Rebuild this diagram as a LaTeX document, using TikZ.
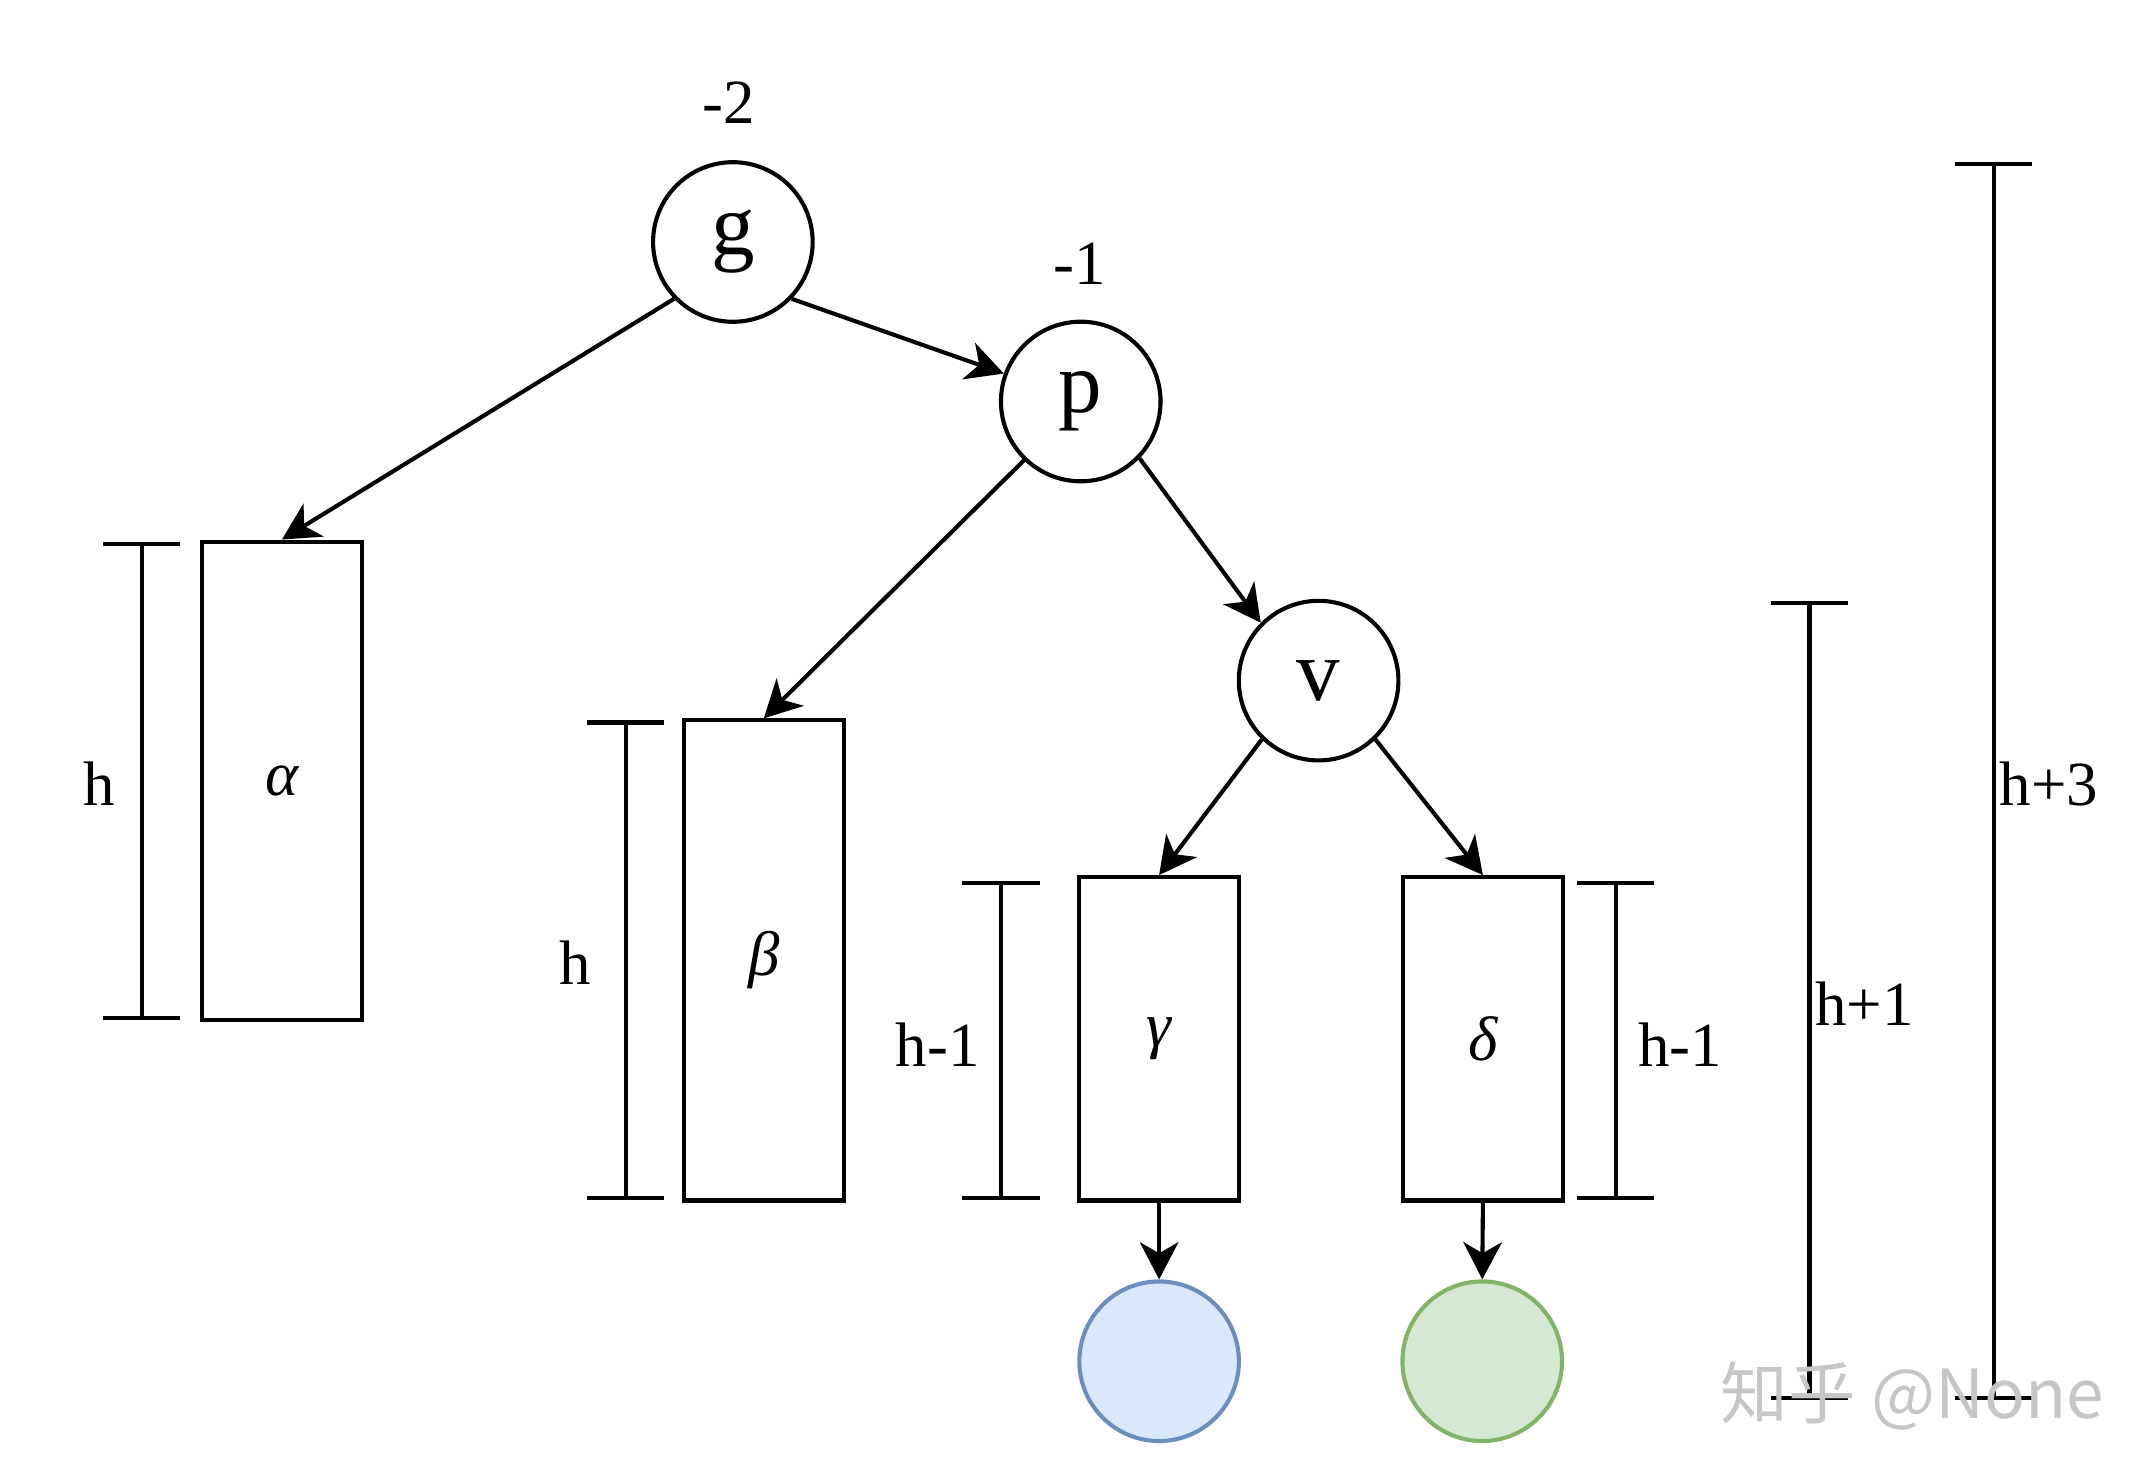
\documentclass[tikz,border=0pt]{standalone}
\usepackage{fontspec}
\setmainfont{Liberation Serif}
\newfontfamily\cjk{Noto Sans CJK SC}
\usetikzlibrary{shapes,arrows.meta,positioning,calc}

\definecolor{leafblue}{HTML}{DAE8FC}
\definecolor{leafblueline}{HTML}{6C8EBF}
\definecolor{leafgreen}{HTML}{D5E8D4}
\definecolor{leafgreenline}{HTML}{82B366}

\tikzset{
  treenode/.style={draw, circle, line width=0.85pt, minimum size=1.16cm, inner sep=0pt, font=\fontsize{18}{18}\selectfont},
  subtree/.style={draw, rectangle, line width=0.85pt, minimum width=1.16cm, inner sep=0pt, font=\fontsize{13}{13}\selectfont\itshape},
  link/.style={-{Stealth[length=0.27cm, width=0.28cm, inset=0.08cm]}, line width=0.85pt},
  dimbar/.style={{Bar[width=0.56cm]}-{Bar[width=0.56cm]}, line width=0.85pt},
  lbl/.style={font=\fontsize{13}{13}\selectfont, inner sep=0pt},
}

\begin{document}
\begin{tikzpicture}[x=0.01cm, y=-0.01cm]
\useasboundingbox (0,0) rectangle (1568,1079);

% 结点
\node[treenode] (g) at (533,176) {g};
\node[treenode] (p) at (786,292) {p};
\node[treenode] (v) at (959,495) {v};
\node[lbl] (gbf) at (530,75) {-2};
\node[lbl] (pbf) at (785,192) {-1};

% 子树
\node[subtree, minimum height=3.48cm] (alpha) at (205,568) {α};
\node[subtree, minimum height=3.49cm] (beta) at (555.5,698.5) {β};
\node[subtree, minimum height=2.35cm] (gamma) at (843,755.5) {γ};
\node[subtree, minimum height=2.35cm] (delta) at (1078.5,755.5) {δ};

% 新插入的结点
\node[treenode, fill=leafblue, draw=leafblueline] (newa) at (843,990) {};
\node[treenode, fill=leafgreen, draw=leafgreenline] (newb) at (1078,990) {};

% 边
\draw[link] (g.-136) -- (alpha.north);
\draw[link] (g.-44) -- (p.160);
\draw[link] (p.-134) -- (beta.north);
\draw[link] (p.-44) -- (v.135);
\draw[link] (v.-134) -- (gamma.north);
\draw[link] (v.-46) -- (delta.north);
\draw[link] (gamma.south) -- (newa.north);
\draw[link] (delta.south) -- (newb.north);

% 高度
\coordinate (ha1) at (103,394);  \coordinate (ha2) at (103,742);
\coordinate (hb1) at (455,524);  \coordinate (hb2) at (455,873);
\coordinate (hc1) at (728,641);  \coordinate (hc2) at (728,873);
\coordinate (hd1) at (1175,641); \coordinate (hd2) at (1175,873);
\coordinate (hv1) at (1316,437); \coordinate (hv2) at (1316,1018);
\coordinate (hg1) at (1450,118); \coordinate (hg2) at (1450,1018);
\draw[dimbar] (ha1) -- (ha2);
\draw[dimbar] (hb1) -- (hb2);
\draw[dimbar] (hc1) -- (hc2);
\draw[dimbar] (hd1) -- (hd2);
\draw[dimbar] (hv1) -- (hv2);
\draw[dimbar] (hg1) -- (hg2);
\node[lbl] (la) at (72,570) {h};
\node[lbl] (lb) at (418,700) {h};
\node[lbl] (lc) at (682,760) {h-1};
\node[lbl] (ld) at (1222,760) {h-1};
\node[lbl] (lv) at (1356,730) {h+1};
\node[lbl] (lg) at (1490,570) {h+3};

% 水印
\node[text=gray!45, font=\cjk\fontsize{14}{14}\selectfont] (mark) at (1391,1015) {知乎 @None};
\end{tikzpicture}
\end{document}
